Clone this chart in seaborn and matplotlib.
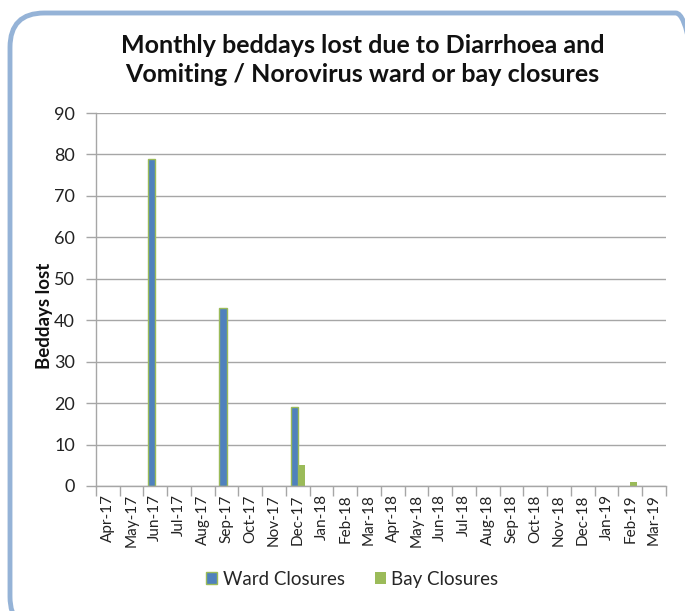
import matplotlib
matplotlib.use("Agg")
import matplotlib.pyplot as plt
from matplotlib.patches import FancyBboxPatch, Patch
import numpy as np
import pandas as pd
import seaborn as sns

months = ["Apr-17", "May-17", "Jun-17", "Jul-17", "Aug-17", "Sep-17", "Oct-17", "Nov-17",
          "Dec-17", "Jan-18", "Feb-18", "Mar-18", "Apr-18", "May-18", "Jun-18", "Jul-18",
          "Aug-18", "Sep-18", "Oct-18", "Nov-18", "Dec-18", "Jan-19", "Feb-19", "Mar-19"]
ward_closures = [0, 0, 79, 0, 0, 43, 0, 0, 19, 0, 0, 0, 0, 0, 0, 0, 0, 0, 0, 0, 0, 0, 0, 0]
bay_closures = [0, 0, 0, 0, 0, 0, 0, 0, 5, 0, 0, 0, 0, 0, 0, 0, 0, 0, 0, 0, 0, 0, 1, 0]
series_names = ["Ward Closures", "Bay Closures"]
y_ticks = [0, 10, 20, 30, 40, 50, 60, 70, 80, 90]

WARD_BLUE = "#4f81bd"
BAY_GREEN = "#9bbb59"

df = pd.DataFrame({
    "Month": months * 2,
    "Beddays": ward_closures + bay_closures,
    "Series": [series_names[0]] * len(months) + [series_names[1]] * len(months),
})

sns.set_theme(style="white")
plt.rcParams["font.family"] = ["Lato", "DejaVu Sans"]

fig = plt.figure(figsize=(6.85, 6.11), dpi=100)
ax = fig.add_axes([0.140, 0.2046, 0.832, 0.6104])

sns.barplot(data=df, x="Month", y="Beddays", hue="Series", order=months,
            hue_order=series_names, palette=[WARD_BLUE, BAY_GREEN],
            width=0.6, saturation=1, errorbar=None, legend=False, ax=ax)

# green outline on the ward bars; empty months draw nothing
n = len(months)
for p, v in zip(ax.patches[:n], ward_closures):
    if v > 0:
        p.set_edgecolor(BAY_GREEN)
        p.set_linewidth(1.0)
    else:
        p.set_visible(False)
for p, v in zip(ax.patches[n:], bay_closures):
    p.set_linewidth(0)
    if v == 0:
        p.set_visible(False)

ax.set_xlim(-0.5, n - 0.5)
ax.set_ylim(0, 90)
ax.set_yticks(y_ticks)
ax.set_yticklabels([str(v) for v in y_ticks], fontsize=13, color="#222222")
ax.yaxis.grid(True, color="#a6a6a6", linewidth=1.0)
ax.set_axisbelow(True)

ax.set_xticks(range(n))
ax.set_xticklabels(months, rotation=90, fontsize=11, color="#222222")
ax.set_xticks(np.arange(-0.5, n, 1.0), minor=True)
ax.tick_params(axis="x", which="major", length=0, pad=6)
ax.tick_params(axis="x", which="minor", length=7, color="#a6a6a6", width=1.0, bottom=True)
ax.tick_params(axis="y", which="major", length=7, color="#a6a6a6", width=1.0, left=True, pad=8)

for side in ["top", "right"]:
    ax.spines[side].set_visible(False)
for side in ["left", "bottom"]:
    ax.spines[side].set_color("#a6a6a6")
    ax.spines[side].set_linewidth(1.0)

ax.set_xlabel("")
ax.set_ylabel("Beddays lost", fontsize=13.5, fontweight="bold", labelpad=1, color="#111111", y=0.455)

fig.text(0.529, 0.902, "Monthly beddays lost due to Diarrhoea and\nVomiting / Norovirus ward or bay closures",
         ha="center", va="center", fontsize=18, fontweight="bold", linespacing=1.3, color="#111111")

handles = [Patch(facecolor=WARD_BLUE, edgecolor=BAY_GREEN, linewidth=1.0),
           Patch(facecolor=BAY_GREEN, edgecolor=BAY_GREEN, linewidth=0)]
fig.legend(handles, series_names, loc="center", bbox_to_anchor=(0.514, 0.052), ncol=2,
           frameon=False, fontsize=13.5, handlelength=0.6, handleheight=0.6,
           handletextpad=0.3, columnspacing=1.6)

border = FancyBboxPatch((10 / 685, -20 / 611), 700 / 685, 618 / 611,
                        boxstyle="round,pad=0,rounding_size=0.05",
                        transform=fig.transFigure, facecolor="none",
                        edgecolor="#95b3d7", linewidth=3.5, clip_on=False,
                        mutation_aspect=685 / 611)
fig.patches.append(border)

fig.savefig("out.png", dpi=100)
